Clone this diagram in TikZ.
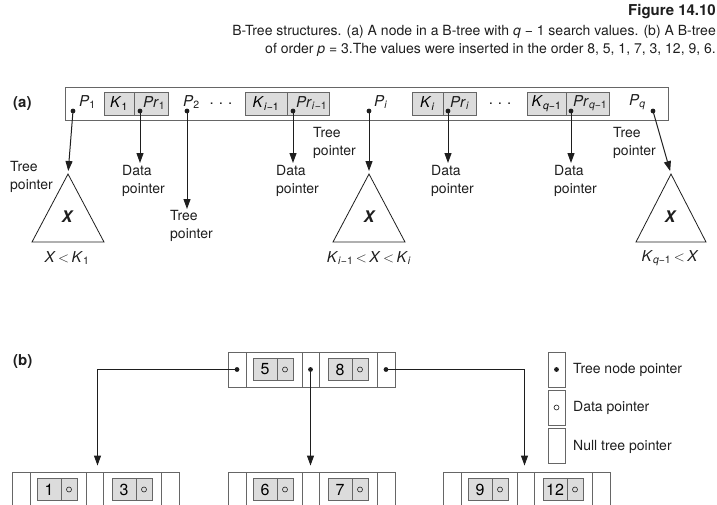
\documentclass[tikz,border=0pt]{standalone}
\usepackage{fontspec}
\setmainfont{TeX Gyre Heros}
\usetikzlibrary{arrows.meta}

\definecolor{linegray}{HTML}{666666}
\definecolor{keyfill}{HTML}{DCDCDC}
\definecolor{ink}{HTML}{1E1E1E}

\newcommand\fs[1]{\fontsize{#1}{18}\selectfont}
\newcommand\ita[1]{\textit{#1}}
\newcommand\sbs[1]{\textsubscript{#1}}
\newcommand\lt{\,$<$\,}

\tikzset{
  frame/.style={draw=linegray, line width=0.9pt, inner sep=0pt},
  keybox/.style={draw=linegray, fill=keyfill, line width=0.9pt, inner sep=0pt, minimum height=22pt},
  cell/.style={draw=linegray, line width=0.9pt, inner sep=0pt, minimum height=35pt},
  ptr/.style={-{Triangle[length=10pt,width=7pt]}, line width=1pt, draw=ink},
  tdot/.style={circle, fill=ink, inner sep=0pt, minimum size=4.8pt},
  odot/.style={circle, draw=ink, line width=0.6pt, inner sep=0pt, minimum size=5pt},
  lbl/.style={font=\fs{14}, align=left, anchor=west, inner sep=0pt, text=ink},
  txt/.style={font=\fs{15}, inner sep=0pt, text=ink},
  tri/.style={draw=ink, line width=0.8pt},
}

% one B-tree node of order 3: name, left x, top y, first key, second key
\newcommand\btnode[5]{%
  \begin{scope}[shift={(#2,#3)}]
    \node[frame, minimum width=167pt, minimum height=35pt] (#1) at (83.5,17.5) {};
    \node[cell, minimum width=18pt] (#1-p0) at (9,17.5) {};
    \node[cell, minimum width=56pt] (#1-c1) at (46,17.5) {};
    \node[cell, minimum width=17pt] (#1-p1) at (82.5,17.5) {};
    \node[cell, minimum width=58pt] (#1-c2) at (120,17.5) {};
    \node[cell, minimum width=18pt] (#1-p2) at (158,17.5) {};
    \node[keybox, minimum width=24pt, font=\fs{16}] (#1-k1) at (37,17.5) {#4};
    \node[keybox, minimum width=16pt] (#1-d1) at (57,17.5) {};
    \node[keybox, minimum width=24pt, font=\fs{16}] (#1-k2) at (112,17.5) {#5};
    \node[keybox, minimum width=16pt] (#1-d2) at (132,17.5) {};
    \node[odot] at (#1-d1) {};
    \node[odot] at (#1-d2) {};
  \end{scope}}

\begin{document}
\begin{tikzpicture}[x=1pt, y=-1pt]
\useasboundingbox (0,0) rectangle (717,504);
\clip (0,0) rectangle (717,504);

% ---------- caption ----------
\node[anchor=east, inner sep=0pt, font=\fs{15}\bfseries, text=ink] (fig) at (716,12) {Figure 14.10};
\node[anchor=east, inner sep=0pt, font=\fs{14}, text=ink] (cap1) at (716,32)
  {B-Tree structures. (a) A node in a B-tree with \ita{q} − 1 search values. (b) A B-tree};
\node[anchor=east, inner sep=0pt, font=\fs{14}, text=ink] (cap2) at (716,50)
  {of order \ita{p} = 3.The values were inserted in the order 8, 5, 1, 7, 3, 12, 9, 6.};

% ---------- (a) a node with q-1 search values ----------
\node[anchor=west, inner sep=0pt, font=\fs{15}\bfseries, text=ink] (lba) at (13,104) {(a)};
\node[frame, minimum width=603pt, minimum height=33pt] (anode) at (366.5,103.5) {};

\node[keybox, minimum width=30pt, minimum height=23pt, font=\fs{15}] (k1) at (119,103.5) {\ita{K}\sbs{1}};
\node[keybox, minimum width=34pt, minimum height=23pt] (pr1) at (151,103.5) {};
\node[keybox, minimum width=42pt, minimum height=23pt, font=\fs{15}] (kim) at (266,103.5) {\ita{K}\sbs{\ita{i}−1}};
\node[keybox, minimum width=42pt, minimum height=23pt] (prim) at (308,103.5) {};
\node[keybox, minimum width=31pt, minimum height=23pt, font=\fs{15}] (ki) at (427.5,103.5) {\ita{K}\sbs{\ita{i}}};
\node[keybox, minimum width=33pt, minimum height=23pt] (pri) at (459.5,103.5) {};
\node[keybox, minimum width=39pt, minimum height=23pt, font=\fs{15}] (kqm) at (546.5,103.5) {\ita{K}\sbs{\ita{q}−1}};
\node[keybox, minimum width=43pt, minimum height=23pt] (prqm) at (587.5,103.5) {};

% pointer labels
\node[txt, anchor=west] (lp1) at (79,102) {\ita{P}\sbs{1}};
\node[txt, anchor=west] (lpr1) at (143,103) {\ita{Pr}\sbs{1}};
\node[txt, anchor=west] (lp2) at (183,102) {\ita{P}\sbs{2}};
\node[txt] (dots1) at (221,104) {.\,\,.\,\,.};
\node[txt, anchor=west] (lprim) at (296,103) {\ita{Pr}\sbs{\ita{i}−1}};
\node[txt, anchor=west] (lpi) at (374,102) {\ita{P}\sbs{\ita{i}}};
\node[txt, anchor=west] (lpri) at (450,103) {\ita{Pr}\sbs{\ita{i}}};
\node[txt] (dots2) at (500,104) {.\,\,.\,\,.};
\node[txt, anchor=west] (lprqm) at (573,103) {\ita{Pr}\sbs{\ita{q}−1}};
\node[txt, anchor=west] (lpq) at (629,102) {\ita{P}\sbs{\ita{q}}};

% pointer dots
\node[tdot] (dp1) at (73,111) {};
\node[tdot] (dpr1) at (140,111) {};
\node[tdot] (dp2) at (187,111) {};
\node[tdot] (dprim) at (293,111) {};
\node[tdot] (dpi) at (369,111) {};
\node[tdot] (dpri) at (448,111) {};
\node[tdot] (dprqm) at (571,111) {};
\node[tdot] (dpq) at (653,111) {};

% subtrees
\coordinate (t1) at (68,174);
\coordinate (t2) at (369,174);
\coordinate (t3) at (671,174);
\draw[tri] (t1) -- ++(-36,68) -- ++(72,0) -- cycle;
\draw[tri] (t2) -- ++(-36,68) -- ++(72,0) -- cycle;
\draw[tri] (t3) -- ++(-35,68) -- ++(70,0) -- cycle;
\node[txt, font=\fs{16}\bfseries\itshape] (x1) at (67,217) {X};
\node[txt, font=\fs{16}\bfseries\itshape] (x2) at (369,217) {X};
\node[txt, font=\fs{16}\bfseries\itshape] (x3) at (670,217) {X};
\node[txt] (r1) at (67,258) {\ita{X}\lt\ita{K}\sbs{1}};
\node[txt] (r2) at (369,258) {\ita{K}\sbs{\ita{i}−1}\lt\ita{X}\lt\ita{K}\sbs{\ita{i}}};
\node[txt] (r3) at (670,258) {\ita{K}\sbs{\ita{q}−1}\lt\ita{X}};

% arrow ends
\coordinate (epr1) at (140,163);
\coordinate (ep2) at (187,209);
\coordinate (eprim) at (293,163);
\coordinate (epri) at (448,163);
\coordinate (eprqm) at (571,163);

\draw[ptr, shorten >=3pt] (dp1.center) -- (t1);
\draw[ptr] (dpr1.center) -- (epr1);
\draw[ptr] (dp2.center) -- (ep2);
\draw[ptr] (dprim.center) -- (eprim);
\draw[ptr, shorten >=3pt] (dpi.center) -- (t2);
\draw[ptr] (dpri.center) -- (epri);
\draw[ptr] (dprqm.center) -- (eprqm);
\draw[ptr, shorten >=3pt] (dpq.center) -- (t3);

% arrow labels
\node[lbl] (lt1) at (10,177) {Tree\\pointer};
\node[lbl] (ld1) at (122,181) {Data\\pointer};
\node[lbl] (lt2) at (170,226) {Tree\\pointer};
\node[lbl] (ld2) at (276,181) {Data\\pointer};
\node[lbl] (lt3) at (313,143) {Tree\\pointer};
\node[lbl] (ld3) at (431,181) {Data\\pointer};
\node[lbl] (ld4) at (554,181) {Data\\pointer};
\node[lbl] (lt4) at (613,143) {Tree\\pointer};

% ---------- (b) a B-tree of order 3 ----------
\node[anchor=west, inner sep=0pt, font=\fs{15}\bfseries, text=ink] (lbb) at (13,362) {(b)};

\btnode{root}{228}{352}{5}{8}
\btnode{leafa}{12}{472}{1}{3}
\btnode{leafb}{228}{472}{6}{7}
\btnode{leafc}{443}{472}{9}{12}

\node[tdot] (rd0) at (root-p0) {};
\node[tdot] (rd1) at (root-p1) {};
\node[tdot] (rd2) at (root-p2) {};

\draw[ptr, shorten >=6pt] (rd0.center) -| ([xshift=2pt]leafa.north);
\draw[ptr, shorten >=6pt] (rd1.center) -- (rd1.center |- leafb.north);
\draw[ptr, shorten >=6pt] (rd2.center) -| ([xshift=-2pt]leafc.north);

% legend
\node[cell, minimum width=17pt] (lg1) at (556.5,369.5) {};
\node[cell, minimum width=17pt] (lg2) at (556.5,407.5) {};
\node[cell, minimum width=17pt] (lg3) at (556.5,446) {};
\node[tdot] at (lg1) {};
\node[odot] at (lg2) {};
\node[lbl] (lgt1) at (573,370) {Tree node pointer};
\node[lbl] (lgt2) at (573,408) {Data pointer};
\node[lbl] (lgt3) at (573,447) {Null tree pointer};
\end{tikzpicture}
\end{document}
